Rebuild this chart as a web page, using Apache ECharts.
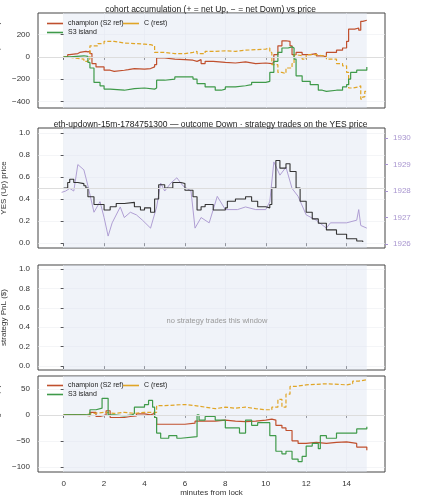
<!DOCTYPE html>
<html><head><meta charset="utf-8">
<script src="https://cdn.jsdelivr.net/npm/echarts@6/dist/echarts.min.js"></script>
<style>html,body{margin:0;padding:0;background:#fff}#c{width:421px;height:500px}</style>
</head><body><div id="c"></div>
<script>
// Panel 1: accumulated net YES shares [minute, shares]
const accChampion=[[0,0],[0.2,20],[0.3,30],[0.7,40],[0.8,50],[1.1,45],[1.2,50],[1.3,30],[1.4,-60],[1.6,-90],[2.0,-120],[2.3,-130],[2.5,-120],[3.0,-115],[3.2,-105],[3.5,-110],[4.0,-105],[4.3,-90],[4.5,-70],[4.6,-10],[5.0,-20],[5.5,-25],[6.0,-30],[6.4,-40],[6.6,-25],[6.8,-60],[7.0,-40],[7.4,-50],[8.0,-55],[8.5,-45],[9.0,-60],[9.5,-55],[10.0,-60],[10.3,-50],[10.4,20],[10.6,100],[10.8,145],[11.0,140],[11.2,100],[11.3,20],[11.5,40],[11.8,20],[12.2,30],[12.5,10],[12.8,0],[13.0,40],[13.5,60],[13.8,80],[14.0,140],[14.1,250],[14.4,260],[14.6,240],[14.7,320],[14.8,330],[15.0,330]];
const accS3=[[0,0],[0.3,10],[1.0,5],[1.2,-50],[1.3,-100],[1.5,-230],[1.8,-260],[2.0,-290],[2.3,-300],[3.0,-285],[3.5,-280],[4.0,-290],[4.5,-280],[4.6,-210],[5.0,-200],[5.5,-180],[6.0,-180],[6.4,-200],[6.6,-240],[7.0,-270],[7.5,-300],[7.8,-290],[8.0,-270],[8.5,-260],[9.0,-250],[9.3,-230],[10.0,-220],[10.2,-140],[10.4,-40],[10.6,40],[10.8,80],[11.1,90],[11.3,80],[11.4,-20],[11.5,-170],[11.8,-220],[12.2,-250],[12.6,-300],[12.8,-310],[13.0,-300],[13.5,-300],[13.8,-270],[14.0,-250],[14.1,-200],[14.2,-140],[14.5,-120],[15.0,-90]];
const accC=[[0,0],[0.2,-10],[0.5,-20],[1.0,-40],[1.2,-20],[1.3,100],[1.7,120],[2.0,140],[2.5,125],[3.0,120],[3.5,115],[4.0,110],[4.3,100],[4.5,40],[5.0,30],[5.5,30],[6.0,40],[6.4,50],[6.6,30],[7.0,50],[7.5,55],[8.0,50],[8.5,60],[9.0,65],[9.5,70],[10.0,80],[10.2,40],[10.3,-70],[10.6,-140],[10.8,-150],[11.0,-100],[11.3,-60],[11.4,20],[11.5,10],[11.8,-20],[12.0,20],[12.5,10],[12.8,10],[13.0,-20],[13.5,-60],[13.8,-80],[14.0,-140],[14.1,-280],[14.3,-270],[14.6,-260],[14.7,-380],[14.8,-360],[14.9,-310],[15.0,-300]];
// Panel 2: YES price and ETH/USD
const yesPrice=[[0,0.5],[0.2,0.55],[0.3,0.58],[0.5,0.55],[0.7,0.54],[1.0,0.52],[1.1,0.5],[1.2,0.42],[1.5,0.35],[2.0,0.3],[2.3,0.33],[2.6,0.36],[3.0,0.37],[3.5,0.33],[3.8,0.3],[4.0,0.32],[4.3,0.28],[4.5,0.4],[4.7,0.53],[5.0,0.5],[5.4,0.55],[5.8,0.54],[6.0,0.48],[6.4,0.42],[6.6,0.3],[6.8,0.33],[7.0,0.35],[7.4,0.3],[8.0,0.32],[8.1,0.38],[8.5,0.4],[9.0,0.42],[9.3,0.38],[9.6,0.33],[10.0,0.32],[10.2,0.35],[10.3,0.5],[10.5,0.75],[10.7,0.68],[11.0,0.72],[11.2,0.65],[11.5,0.5],[11.7,0.38],[12.0,0.28],[12.3,0.22],[12.6,0.18],[13.0,0.12],[13.5,0.08],[14.0,0.04],[14.5,0.02],[14.8,0.01]];
const ethUsd=[[-0.1,1927.95],[0.1,1928.0],[0.3,1928.1],[0.5,1928.0],[0.7,1929.0],[1.0,1928.8],[1.2,1928.2],[1.5,1927.2],[1.8,1927.6],[2.0,1927.0],[2.2,1926.3],[2.4,1926.8],[2.8,1927.4],[3.0,1927.0],[3.3,1927.2],[3.6,1927.1],[3.9,1926.9],[4.3,1926.6],[4.6,1927.4],[4.8,1928.3],[5.0,1928.0],[5.3,1928.3],[5.6,1928.5],[5.9,1928.2],[6.3,1928.0],[6.5,1926.6],[6.8,1927.0],[7.2,1926.8],[7.6,1927.8],[8.0,1927.3],[8.6,1927.3],[9.0,1927.4],[9.5,1927.3],[10.0,1927.3],[10.2,1927.6],[10.4,1929.1],[10.7,1928.6],[11.0,1928.9],[11.3,1928.1],[11.6,1927.8],[12.0,1927.1],[12.5,1926.9],[13.0,1926.6],[13.2,1926.8],[14.0,1926.8],[14.5,1926.9],[14.6,1927.3],[14.7,1926.7],[15.0,1926.6]];
// Panel 4: cohort moving PnL ($)
const pnlChampion=[[0,0],[1,-2],[1.3,5],[1.6,-3],[1.8,0],[2.1,8],[2.3,-5],[2.6,-5],[3,-3],[3.3,-2],[3.6,2],[4,0],[4.3,3],[4.5,-5],[4.6,-18],[5.5,-18],[6,-16],[6.5,-12],[7,-12],[7.5,-10],[8,-12],[8.5,-13],[9,-12],[9.5,-10],[10,-8],[10.3,-10],[10.5,-20],[10.8,-25],[11,-30],[11.3,-50],[11.6,-55],[12,-53],[12.5,-55],[13,-53],[13.5,-52],[14,-55],[14.5,-62],[15,-68]];
const pnlS3=[[0,0],[1,0],[1.3,10],[1.6,13],[1.9,32],[2.2,0],[2.5,-2],[3,0],[3.4,3],[3.5,15],[4,20],[4.2,28],[4.4,15],[4.5,-5],[4.6,-35],[4.8,-45],[5.2,-40],[5.6,-45],[5.8,-42],[6.6,0],[6.7,-10],[7,-3],[7.5,-10],[8,-25],[8.5,-25],[8.7,-35],[9,-10],[9.3,-20],[9.6,-15],[10,-15],[10.2,-40],[10.5,-70],[10.8,-75],[11,-70],[11.3,-85],[11.6,-90],[11.8,-80],[12,-60],[12.3,-55],[12.6,-65],[12.7,-40],[13,-45],[13.5,-35],[14,-35],[14.5,-27],[15,-23]];
const pnlC=[[0,0],[0.5,0],[1,3],[1.5,5],[2,3],[2.5,5],[3,3],[3.5,5],[4,5],[4.5,5],[4.6,18],[5,20],[6,18],[6.5,15],[7,12],[7.5,15],[8,13],[8.5,15],[9,12],[9.5,10],[10,10],[10.3,15],[10.6,30],[10.8,15],[11,40],[11.2,55],[11.5,58],[12,60],[13,58],[14,60],[14.3,65],[14.6,68],[15,70]];
const xTicks=[0,2,4,6,8,10,12,14];

const RED='#c0502e',GREEN='#3f9a4a',GOLD='#e0a526',PURP='#a895cf';
const ch=echarts.init(document.getElementById('c'));
const grids=[{top:13,height:95},{top:128,height:120},{top:265,height:105},{top:376,height:96}];
const base={left:38,right:36,show:true,borderColor:'#444',borderWidth:1,backgroundColor:'#fff',outerBoundsMode:'none',containLabel:false};
const lab={fontSize:8,color:'#333'};
const minus=v=>String(v).replace('-','\u2212');
const xAxes=grids.map((g,i)=>({type:'value',gridIndex:i,min:-1.27,max:15.9,interval:2,
  axisLabel:{show:i===3,...lab,customValues:xTicks},axisTick:{customValues:xTicks,length:3},
  axisLine:{show:false},splitLine:{show:true,lineStyle:{color:'#eceef2',width:0.6}},
  name:i===3?'minutes from lock':'',nameLocation:'middle',nameGap:16,nameTextStyle:{fontSize:8,color:'#333'}}));
const yl=(i,min,max,ticks,name,fmt)=>({type:'value',gridIndex:i,min,max,axisLabel:{...lab,customValues:ticks,formatter:fmt},
  axisTick:{show:true,length:3,customValues:ticks},axisLine:{show:false},splitLine:{show:true,lineStyle:{color:'#eceef2',width:0.6}},
  name,nameLocation:'middle',nameGap:(i===1||i===2)?22:26,nameTextStyle:{fontSize:8,color:'#333'}});
const f1=v=>v.toFixed(1);
const yAxes=[
  yl(0,-460,395,[-400,-200,0,200],'acc. net YES (shares)',minus),
  yl(1,-0.044,1.044,[0,0.2,0.4,0.6,0.8,1.0],'YES (Up) price',f1),
  yl(2,-0.04,1.04,[0,0.2,0.4,0.6,0.8,1.0],'strategy PnL ($)',f1),
  yl(3,-110,75,[-100,-50,0,50],'cohort moving PnL ($)',minus),
  {type:'value',gridIndex:1,position:'right',min:1925.85,max:1930.38,axisLabel:{fontSize:8,color:PURP,customValues:[1926,1927,1928,1929,1930],formatter:v=>String(v)},
   axisTick:{show:true,customValues:[1926,1927,1928,1929,1930],length:3,lineStyle:{color:PURP}},axisLine:{show:false},splitLine:{show:false},
   name:'ETH/USD (strike dotted = YES 0.5)',nameLocation:'middle',nameGap:30,nameTextStyle:{fontSize:7,color:PURP}}
];
const span=(xi,yi)=>({type:'line',xAxisIndex:xi,yAxisIndex:yi,data:[],silent:true,
  markArea:{silent:true,itemStyle:{color:'rgba(222,229,242,0.45)'},data:[[{xAxis:0},{xAxis:15}]]},
  markLine:{silent:true,symbol:'none',label:{show:false},lineStyle:{color:'#ddd',width:1,type:'solid'},data:yi===2?[]:[{yAxis:yi===1?0.5:0}]}});
const ln=(name,data,color,xi,yi,dash)=>({name,type:'line',step:'end',xAxisIndex:xi,yAxisIndex:yi,data,showSymbol:false,symbol:'none',
  lineStyle:{color,width:1.2,type:dash?[4,2]:'solid'},itemStyle:{color},z:3});
const lineIcon='path://M0,0H10V1H0Z';
ch.setOption({
  animation:false,
  title:[
    {text:'cohort accumulation (+ = net Up, \u2212 = net Down) vs price',left:'center',top:0,textStyle:{fontSize:8.5,fontWeight:'normal',color:'#222'}},
    {text:'eth-updown-15m-1784751300 \u2014 outcome Down \u00b7 strategy trades on the YES price',left:'center',top:115,textStyle:{fontSize:8.5,fontWeight:'normal',color:'#222'}},
    {text:'no strategy trades this window',left:212,top:312,textAlign:'center',textStyle:{fontSize:7.5,fontWeight:'normal',color:'#999'}}
  ],
  grid:grids.map(g=>({...base,...g})),
  xAxis:xAxes,yAxis:yAxes,
  legend:[
    {data:['champion (S2 ref)','S3 island'],left:42,top:15,orient:'vertical',itemGap:2,itemWidth:16,itemHeight:6,textStyle:{fontSize:7,color:'#222'},icon:lineIcon},
    {data:['C (rest)'],left:118,top:15,itemWidth:16,itemHeight:6,textStyle:{fontSize:7,color:'#222'},icon:lineIcon},
    {data:['champion (S2 ref)','S3 island'],left:42,top:377,orient:'vertical',itemGap:2,itemWidth:16,itemHeight:6,textStyle:{fontSize:7,color:'#222'},icon:lineIcon},
    {data:['C (rest)'],left:118,top:377,itemWidth:16,itemHeight:6,textStyle:{fontSize:7,color:'#222'},icon:lineIcon}
  ],
  series:[
    span(0,0),span(1,1),span(2,2),span(3,3),
    ln('champion (S2 ref)',accChampion,RED,0,0),ln('C (rest)',accC,GOLD,0,0,true),ln('S3 island',accS3,GREEN,0,0),
    {type:'line',xAxisIndex:1,yAxisIndex:4,data:ethUsd,showSymbol:false,symbol:'none',lineStyle:{color:PURP,width:0.9},z:2},
    {type:'line',step:'end',xAxisIndex:1,yAxisIndex:1,data:yesPrice,showSymbol:false,symbol:'none',lineStyle:{color:'#333',width:1.1},z:3},
    ln('champion (S2 ref)',pnlChampion,RED,3,3),ln('C (rest)',pnlC,GOLD,3,3,true),ln('S3 island',pnlS3,GREEN,3,3)
  ]
});
</script></body></html>
